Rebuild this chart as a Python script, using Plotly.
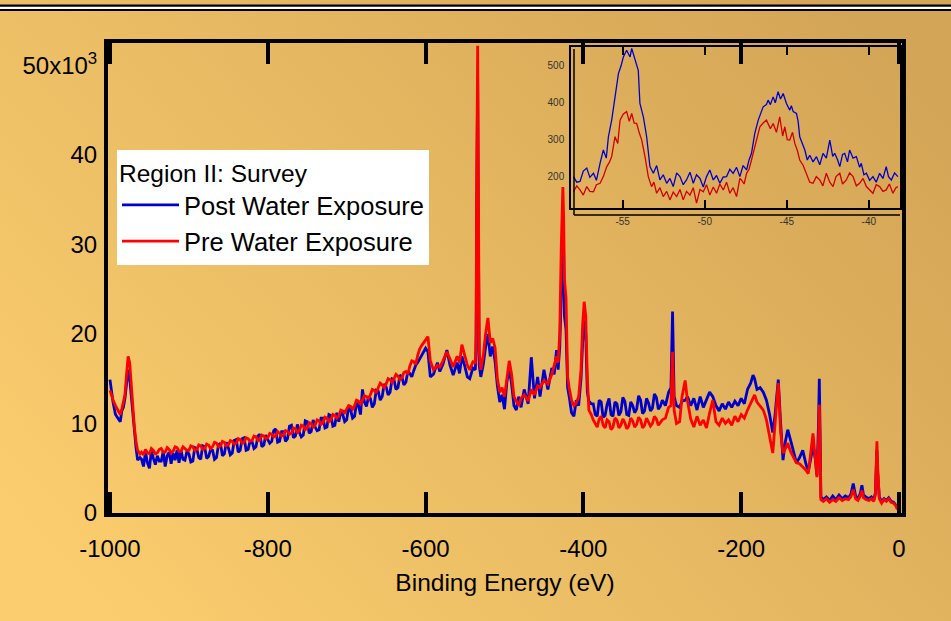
import base64
import plotly.graph_objects as go

# ---------------- main survey spectrum (binding energy, eV ; intensity in 10^3 counts) -------------
seg1_e = [-1000, -998, -996, -993, -990, -987, -985, -983, -981, -979, -977, -975, -973, -971, -969, -967, -965, -962]
seg1_pre = [13.7, 13.0, 12.6, 12.0, 11.4, 11.0, 11.6, 12.4, 13.2, 15.5, 17.5, 16.8, 14.5, 11.5, 9.5, 8.0, 7.0, 6.6]
seg1_post = [14.9, 13.2, 12.3, 11.0, 10.6, 10.2, 11.4, 11.8, 12.8, 14.5, 16.0, 15.0, 13.0, 10.8, 9.0, 7.3, 5.9, 6.2]

seg2_e = [-960 + 2.5 * i for i in range(143)] + [-600, -597, -594, -590, -585, -582, -578, -573, -569, -565,
                                                 -560, -557, -554, -550, -547, -544, -540, -537]
seg2_pre = [6.8, 6.5, 7.1, 6.7, 6.6, 7.2, 7.0, 6.6, 6.7, 7.1,
            7.2, 6.8, 6.8, 7.3, 7.1, 6.7, 6.9, 7.4, 7.3, 6.9,
            6.9, 7.4, 7.2, 7.0, 7.0, 7.5, 7.4, 7.0, 7.1, 7.6,
            7.5, 7.1, 7.2, 7.7, 7.6, 7.2, 7.4, 7.9, 7.8, 7.4,
            7.5, 8.0, 7.9, 7.5, 7.6, 8.1, 8.0, 7.7, 7.8, 8.3,
            8.2, 7.8, 7.9, 8.4, 8.3, 8.0, 8.1, 8.6, 8.5, 8.1,
            8.2, 8.7, 8.6, 8.3, 8.4, 8.9, 8.8, 8.5, 8.6, 9.1,
            8.9, 8.6, 8.7, 9.2, 9.1, 8.8, 8.9, 9.5, 9.4, 9.0,
            9.2, 9.8, 9.7, 9.3, 9.5, 10.1, 10.0, 9.6, 9.8, 10.4,
            10.3, 9.9, 10.1, 10.7, 10.6, 10.2, 10.4, 11.0, 10.9, 10.6,
            10.8, 11.5, 11.4, 11.2, 11.6, 12.0, 11.9, 11.6, 12.0, 12.6,
            12.5, 12.2, 12.6, 13.1, 13.0, 12.8, 13.2, 13.8, 13.7, 13.4,
            14.0, 14.5, 14.3, 14.0, 14.4, 15.0, 14.9, 14.6, 15.0, 15.5,
            15.3, 14.9, 15.1, 15.7, 15.8, 15.5, 16.4, 17.0, 16.9, 16.6,
            17.6, 18.3, 18.7,
            19.3, 19.7, 17.0, 16.0, 16.5, 16.3, 17.0, 18.0, 17.2, 16.3, 17.5, 16.8, 18.8, 17.4, 16.5, 16.0, 16.9, 16.8]
seg2_post = [6.0, 5.2, 6.8, 5.6, 5.0, 6.9, 6.1, 5.4, 6.4, 5.8,
             5.8, 6.9, 5.2, 6.4, 6.8, 5.5, 6.7, 5.9, 7.0, 5.6,
             7.0, 6.0, 5.9, 6.9, 6.6, 5.7, 5.8, 7.3, 7.2, 6.2,
             6.0, 7.5, 7.4, 6.1, 6.3, 7.1, 7.0, 6.0, 6.2, 7.6,
             7.8, 6.4, 6.6, 7.9, 7.3, 6.5, 6.7, 8.1, 8.2, 6.8,
             7.0, 8.3, 8.4, 7.0, 7.1, 8.0, 8.0, 7.2, 7.4, 8.6,
             8.8, 7.4, 7.6, 8.7, 8.2, 7.8, 8.0, 9.2, 9.4, 7.9,
             8.0, 9.1, 9.1, 8.0, 8.3, 9.7, 9.8, 8.4, 8.6, 9.9,
             9.0, 8.5, 8.7, 10.3, 10.2, 8.9, 9.1, 10.4, 9.6, 9.2,
             9.3, 10.6, 10.6, 9.5, 9.6, 11.0, 10.9, 9.7, 9.8, 11.2,
             10.2, 11.3, 11.0, 10.2, 10.4, 11.9, 11.5, 10.6, 10.8, 12.3,
             12.0, 11.0, 13.8, 12.4, 11.9, 12.9, 12.8, 11.8, 12.2, 13.7,
             13.6, 12.6, 13.0, 14.4, 14.1, 13.2, 13.5, 15.0, 14.9, 13.8,
             14.0, 15.4, 15.2, 14.3, 14.6, 15.8, 15.6, 15.2, 15.9, 16.5,
             16.8, 17.2, 17.6,
             18.4, 18.0, 15.2, 15.5, 16.8, 15.8, 16.6, 18.2, 16.5, 15.4, 16.8, 15.6, 17.5, 16.3, 15.2, 15.0, 16.2, 16.0]

seg3_e = [-536, -535, -534, -533, -532, -530, -527, -524, -521, -518, -515, -512, -509, -506, -503, -500, -497, -494,
          -491, -488, -485, -482, -479, -475, -470, -466, -462, -458, -455, -450, -445, -440, -437, -434, -432, -430,
          -428, -426, -425, -424, -422, -420, -418, -415, -412, -409, -406, -403, -401, -399, -397, -395, -393, -390]
seg3_pre = [20, 40, 52.2, 35, 18, 16, 17.5, 20, 21.8, 19, 19.5, 18.5, 15, 13.5, 14, 13, 15, 17,
            15.5, 13, 12.5, 12, 12.8, 13.2, 12.5, 13.8, 13.2, 14.2, 14, 14.8, 14.4, 15.5, 16.5, 17.5, 16.8, 20,
            30, 36.4, 33, 26, 24, 15.2, 14, 12.6, 12.0, 12.3, 13, 16, 21, 23.6, 22, 15, 11.5, 11.0]
seg3_post = [18, 36, 48.5, 30, 16.5, 15.2, 16.5, 18.5, 20.0, 17.5, 18.6, 17.0, 14.2, 12.4, 13.2, 11.6, 14.6, 16.2,
             14.4, 12.0, 11.5, 13.0, 11.8, 13.8, 12.2, 17.4, 12.8, 15.2, 13.0, 16.0, 13.8, 16.2, 15.5, 18.2, 16.0, 18.5,
             26, 30.5, 29, 22, 20.5, 14.0, 13.0, 11.2, 10.8, 12.6, 12.0, 15.0, 19.0, 21.5, 20.0, 13.5, 12.5, 12.2]

seg4_e = [-387.5 + 2.5 * i for i in range(36)]
seg4_pre = [10.4, 10.0, 9.6, 10.5, 10.8, 9.8, 9.5, 10.4, 10.2, 9.3, 9.6, 10.6, 10.4, 9.5, 9.8, 10.5, 10.1, 9.4,
            9.7, 10.6, 10.3, 9.6, 9.9, 10.7, 10.4, 9.5, 9.8, 10.6, 10.2, 9.7, 10.0, 10.8, 10.5, 9.8, 10.1, 10.4]
seg4_post = [12.2, 11.0, 10.8, 12.6, 12.4, 10.7, 10.9, 12.1, 12.8, 11.0, 10.8, 12.4, 12.2, 10.9, 11.3, 12.9, 12.5, 11.0,
             10.9, 12.4, 12.0, 11.2, 11.6, 13.1, 12.6, 11.1, 11.4, 12.8, 12.3, 11.4, 11.7, 13.3, 12.9, 11.6, 11.9, 12.6]

seg5_e = [-296, -292, -289, -287, -285, -282, -278, -275, -271, -268, -264, -260, -256, -252, -248, -244, -240, -236,
          -232, -228, -224, -220, -216, -212, -208, -204, -200, -196, -192, -188, -185, -183, -180, -176, -172, -168,
          -164, -160, -157, -155, -153, -150, -147, -144, -141, -137, -133, -130, -126, -122, -118, -115, -112, -109,
          -106, -104, -102, -101, -100, -99]
seg5_pre = [10.6, 11.8, 12.0, 18.0, 11.5, 10.0, 10.2, 13.0, 14.8, 12.5, 10.5, 9.6, 10.8, 9.8, 10.4, 9.5, 11.2, 12.6,
            10.2, 9.8, 10.6, 10.0, 10.4, 9.8, 10.8, 10.2, 11.0, 10.6, 11.5, 12.2, 12.8, 13.2, 12.4, 12.0, 11.5, 10.4,
            8.5, 6.7, 10.0, 12.5, 14.5, 9.0, 6.7, 7.2, 7.8, 6.8, 6.0, 5.6, 5.5, 5.2, 4.8, 4.4, 6.5, 8.9,
            6.0, 4.0, 8.0, 12.1, 7.0, 1.5]
seg5_post = [12.0, 13.5, 14.0, 22.5, 13.0, 12.0, 11.8, 12.5, 12.6, 13.0, 12.0, 12.8, 11.5, 13.0, 11.8, 12.6, 13.5, 13.0,
             12.0, 11.4, 12.2, 11.6, 12.4, 11.8, 12.5, 12.0, 12.8, 12.2, 13.8, 14.5, 15.4, 15.0, 13.8, 14.0, 13.5, 12.6,
             11.0, 9.0, 11.0, 13.0, 14.9, 10.0, 5.9, 8.0, 9.3, 8.0, 6.5, 5.6, 6.2, 7.0, 5.5, 4.6, 6.0, 7.5,
             6.0, 4.2, 10.0, 15.0, 9.0, 1.8]

seg6_e = [-96, -92, -88, -84, -80, -76, -72, -68, -64, -61, -58, -55, -52, -49, -47, -45, -42, -38, -35, -32,
          -30, -29, -28, -27, -25, -22, -19, -16, -13, -10, -7, -4, -2]
seg6_pre = [1.3, 1.6, 1.2, 1.5, 1.3, 1.7, 1.4, 1.6, 1.5, 1.8, 2.6, 1.6, 1.4, 1.9, 2.5, 1.7, 1.5, 1.4, 1.6, 1.3,
            2.0, 4.5, 8.0, 5.0, 1.6, 1.1, 1.5, 1.3, 1.6, 1.2, 1.1, 0.8, 0.4]
seg6_post = [1.5, 1.8, 1.4, 1.9, 1.5, 2.0, 1.6, 1.9, 1.7, 2.1, 3.3, 1.9, 1.6, 2.2, 3.1, 2.0, 1.8, 1.6, 1.8, 1.5,
             2.2, 4.0, 7.0, 4.5, 1.8, 1.3, 1.6, 1.4, 1.7, 1.3, 1.2, 0.9, 0.5]

energy = seg1_e + seg2_e + seg3_e + seg4_e + seg5_e + seg6_e
pre_water = seg1_pre + seg2_pre + seg3_pre + seg4_pre + seg5_pre + seg6_pre
post_water = seg1_post + seg2_post + seg3_post + seg4_post + seg5_post + seg6_post
assert len(energy) == len(pre_water) == len(post_water)

# ---------------- inset: -58 .. -38 eV region (counts) ----------------
inset_post_e = [-58.0, -57.8, -57.6, -57.4, -57.19, -57.0, -56.78, -56.6, -56.38, -56.18, -56.0, -55.87, -55.67, -55.47,
                -55.26, -55.1, -54.96, -54.76, -54.55, -54.45, -54.25, -54.05, -53.95, -53.74, -53.54, -53.34, -53.13,
                -52.93, -52.73, -52.53, -52.32, -52.12, -51.92, -51.71, -51.51, -51.31, -51.11, -50.90, -50.70, -50.50,
                -50.29, -50.09, -49.89, -49.69, -49.48, -49.28, -49.08, -48.87, -48.67, -48.47, -48.27, -48.06, -47.86,
                -47.66, -47.45, -47.3, -47.15, -46.95, -46.74, -46.6, -46.44, -46.24, -46.14, -46.0, -45.83, -45.7,
                -45.53, -45.38, -45.22, -45.02, -44.82, -44.72, -44.61, -44.41, -44.31, -44.21, -44.05, -43.90, -43.75,
                -43.60, -43.40, -43.19, -42.99, -42.79, -42.59, -42.38, -42.2, -42.08, -41.9, -41.77, -41.6, -41.47,
                -41.3, -41.17, -40.96, -40.76, -40.56, -40.46, -40.3, -40.15, -39.95, -39.75, -39.55, -39.34, -39.14,
                -38.94, -38.8, -38.63, -38.43, -38.23]
inset_post = [200, 185, 187, 215, 223, 198, 209, 190, 236, 272, 250, 308, 353, 416,
              479, 500, 524, 542, 524, 547, 515, 488, 398, 362, 308, 227, 209,
              230, 191, 205, 182, 195, 173, 210, 200, 178, 191, 212, 182, 205,
              195, 172, 200, 218, 191, 203, 182, 199, 200, 220, 209, 225, 200,
              230, 218, 245, 263, 317, 353, 370, 389, 395, 407, 395, 416, 400,
              430, 410, 425, 398, 380, 392, 376, 371, 350, 308, 290, 272, 245,
              258, 240, 254, 232, 263, 250, 299, 255, 263, 245, 227, 260, 263,
              240, 272, 250, 254, 225, 236, 205, 209, 190, 200, 185, 209, 195,
              227, 200, 191, 210, 200]
inset_pre_e = [-58.0, -57.8, -57.6, -57.4, -57.19, -57.0, -56.78, -56.6, -56.38, -56.18, -55.97, -55.8, -55.67, -55.47,
               -55.3, -55.16, -54.96, -54.76, -54.6, -54.45, -54.3, -54.15, -54.0, -53.84, -53.64, -53.44, -53.24,
               -53.1, -52.93, -52.73, -52.53, -52.32, -52.12, -51.92, -51.71, -51.51, -51.31, -51.11, -50.90, -50.70,
               -50.50, -50.29, -50.09, -49.89, -49.69, -49.48, -49.28, -49.08, -48.87, -48.67, -48.47, -48.27, -48.06,
               -47.86, -47.76, -47.6, -47.45, -47.3, -47.15, -47.0, -46.85, -46.64, -46.44, -46.24, -46.0, -45.83,
               -45.63, -45.43, -45.25, -45.12, -44.97, -44.82, -44.65, -44.51, -44.35, -44.21, -44.0, -43.80, -43.60,
               -43.40, -43.2, -42.99, -42.8, -42.59, -42.38, -42.18, -42.0, -41.77, -41.6, -41.37, -41.17, -40.96,
               -40.76, -40.56, -40.35, -40.15, -39.95, -39.75, -39.55, -39.34, -39.14, -38.94, -38.75, -38.53, -38.35,
               -38.23]
inset_pre = [159, 175, 164, 150, 173, 160, 159, 178, 182, 200, 227, 240, 254, 308,
             290, 353, 370, 376, 350, 371, 345, 344, 320, 299, 254, 200, 173,
             185, 155, 170, 146, 160, 137, 158, 146, 165, 137, 160, 150, 170,
             128, 165, 159, 178, 150, 172, 155, 180, 164, 185, 155, 170, 146,
             195, 191, 180, 209, 220, 245, 270, 299, 335, 345, 353, 330, 344,
             320, 362, 310, 335, 300, 299, 320, 290, 270, 245, 230, 209, 185,
             182, 200, 191, 175, 209, 185, 173, 200, 209, 180, 191, 210, 200,
             175, 182, 195, 173, 165, 155, 178, 173, 160, 164, 180, 155, 170,
             173]

x_ticks = [-1000, -800, -600, -400, -200, 0]
x_ticktext = ["-1000", "-800", "-600", "-400", "-200", "0"]
y_ticks = [0, 10, 20, 30, 40, 50]
y_ticktext = ["0", "10", "20", "30", "40", "50x10<sup>3</sup>"]
inset_x_ticks = [-55, -50, -45, -40]
inset_x_ticktext = ["-55", "-50", "-45", "-40"]
inset_y_ticks = [200, 300, 400, 500]

# ---------------- layout geometry helpers (pixels -> paper) ----------------
FW, FH = 951, 621
PL, PR, PT, PB = 108, 902, 43, 513
PW, PH = PR - PL, PB - PT


def px(x):
    return (x - PL) / PW


def py(y):
    return (PB - y) / PH


FONT = "Liberation Sans, Arial, Helvetica, sans-serif"
BLUE = "#0000CC"
RED = "#FF0000"

fig = go.Figure()
fig.add_trace(go.Scatter(x=energy, y=post_water, mode="lines", name="Post Water Exposure",
                         line=dict(color=BLUE, width=2.8)))
fig.add_trace(go.Scatter(x=energy, y=pre_water, mode="lines", name="Pre Water Exposure",
                         line=dict(color=RED, width=2.8)))
fig.add_trace(go.Scatter(x=inset_post_e, y=inset_post, mode="lines", showlegend=False,
                         line=dict(color="#0000D0", width=1.3), xaxis="x2", yaxis="y2"))
fig.add_trace(go.Scatter(x=inset_pre_e, y=inset_pre, mode="lines", showlegend=False,
                         line=dict(color="#D00000", width=1.3), xaxis="x2", yaxis="y2"))

# gradient background as inline svg
svg = ('<svg xmlns="http://www.w3.org/2000/svg" width="951" height="621">'
       '<defs><linearGradient id="g" x1="0" y1="0.8" x2="1" y2="0.2">'
       '<stop offset="0" stop-color="#FBCD6E"/><stop offset="1" stop-color="#D3A556"/>'
       '</linearGradient></defs><rect width="951" height="621" fill="url(#g)"/></svg>')
bg_uri = "data:image/svg+xml;base64," + base64.b64encode(svg.encode()).decode()

shapes = [
    # double rule at the very top (cut-off page title bar)
    dict(type="rect", xref="paper", yref="paper", x0=px(0), x1=px(FW), y0=py(11), y1=py(4.5),
         fillcolor="black", line=dict(width=0), layer="above"),
    dict(type="rect", xref="paper", yref="paper", x0=px(0), x1=px(FW), y0=py(9), y1=py(6.8),
         fillcolor="white", line=dict(width=0), layer="above"),
    # inset shadow frame
    dict(type="line", xref="paper", yref="paper", x0=px(574), x1=px(574), y0=py(49), y1=py(215),
         line=dict(color="black", width=1.5)),
    dict(type="line", xref="paper", yref="paper", x0=px(574), x1=px(900), y0=py(215), y1=py(215),
         line=dict(color="black", width=1.5)),
]

fig.update_layout(
    width=FW, height=FH, autosize=False,
    margin=dict(l=PL, r=FW - PR, t=PT, b=FH - PB, pad=0),
    paper_bgcolor="#E6B862", plot_bgcolor="rgba(0,0,0,0)",
    font=dict(family=FONT, size=24, color="black"),
    images=[dict(source=bg_uri, xref="paper", yref="paper", x=px(0), y=py(0),
                 sizex=FW / PW, sizey=FH / PH, xanchor="left", yanchor="top",
                 sizing="stretch", layer="below")],
    shapes=shapes,
    showlegend=True,
    legend=dict(x=px(117), y=py(150), xanchor="left", yanchor="top",
                bgcolor="white", borderwidth=0, itemwidth=57,
                font=dict(family=FONT, size=25.5, color="black"),
                title=dict(text="Region II: Survey", font=dict(family=FONT, size=24.5, color="black")),
                tracegroupgap=0),
    xaxis=dict(range=[-1002.5, 3.8], tickvals=x_ticks, ticktext=x_ticktext, ticks="inside", ticklen=21,
               tickwidth=3.5, tickcolor="black", showline=True, linewidth=4, linecolor="black", mirror="ticks",
               showgrid=False, zeroline=False, ticklabelstandoff=11,
               tickfont=dict(family=FONT, size=24, color="black"),
               title=dict(text="Binding Energy (eV)", standoff=14,
                          font=dict(family=FONT, size=24.5, color="black"))),
    yaxis=dict(range=[0, 52.5], tickvals=y_ticks, ticktext=y_ticktext, ticks="",
               showline=True, linewidth=4, linecolor="black", mirror=True,
               showgrid=False, zeroline=False, ticklabelstandoff=2,
               tickfont=dict(family=FONT, size=24, color="black")),
    xaxis2=dict(domain=[px(571), px(900)], anchor="y2", range=[-58.15, -38.1], tickvals=inset_x_ticks,
                ticktext=inset_x_ticktext,
                ticks="inside", ticklen=8, tickwidth=1.5, tickcolor="black", showline=True, linewidth=1.5,
                linecolor="black", mirror="ticks", showgrid=False, zeroline=False, ticklabelstandoff=3,
                tickfont=dict(family=FONT, size=10, color="#333333")),
    yaxis2=dict(domain=[py(208), py(47)], anchor="x2", range=[115, 551], tickvals=inset_y_ticks,
                ticks="", showline=True, linewidth=1.5, linecolor="black", mirror=True,
                showgrid=False, zeroline=False, ticklabelstandoff=3,
                tickfont=dict(family=FONT, size=10, color="#333333")),
)

fig.write_html("out.html")
